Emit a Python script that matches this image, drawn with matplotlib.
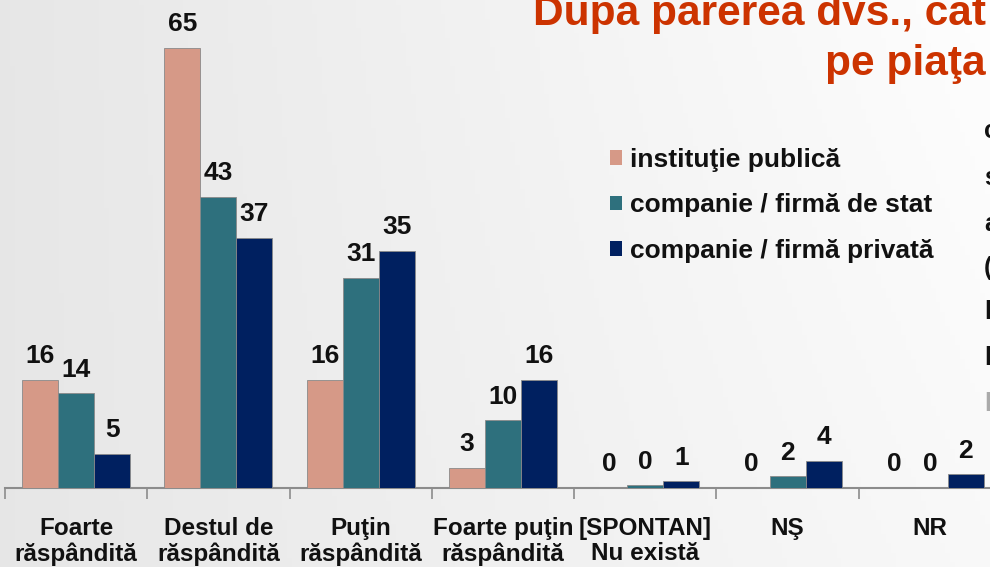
import numpy as np
import matplotlib
matplotlib.use("Agg")
import matplotlib.pyplot as plt
from matplotlib.patches import Patch

categories = ["Foarte\nrăspândită", "Destul de\nrăspândită", "Puţin\nrăspândită",
              "Foarte puţin\nrăspândită", "[SPONTAN]\nNu există", "NŞ", "NR"]
series_names = ["instituţie publică", "companie / firmă de stat", "companie / firmă privată"]
inst_publica = [16, 65, 16, 3, 0, 0, 0]
firma_stat = [14, 43, 31, 10, 0.4, 1.7, 0]
firma_privata = [5, 37, 35, 16, 1, 4, 2]
title_lines = ["După părerea dvs., cât", "pe piaţa"]
side_chars = ["c", "s", "a", "(", "l", "l", "l"]

colors = ["#D69987", "#2E707D", "#002060"]
W, H = 990, 567
plt.rcParams['font.family'] = ['Liberation Sans', 'DejaVu Sans']

fig = plt.figure(figsize=(W / 100, H / 100), dpi=100)

# background gradient
bg = fig.add_axes([0, 0, 1, 1], zorder=-10)
xx, yy = np.meshgrid(np.linspace(0, 1, 200), np.linspace(0, 1, 120))
val = 0.905 + 0.07 * xx + 0.02 * (1 - yy) * xx
bg.imshow(np.dstack([val, val, val]), aspect='auto', extent=[0, 1, 0, 1], origin='upper')
bg.set_axis_off()

def px(x, y):
    return x / W, 1 - y / H

ax = fig.add_axes([5 / W, (H - 488) / H, 996 / W, 440 / H])
ax.set_facecolor('none')
n = len(categories)
x = np.arange(n)
bw = 0.253
series = [inst_publica, firma_stat, firma_privata]
for k, (vals, c) in enumerate(zip(series, colors)):
    bars = ax.bar(x + (k - 1) * bw, vals, width=bw, color=c, edgecolor='#8a8a8a',
                  linewidth=0.6, zorder=3)
    for b, v in zip(bars, vals):
        ax.annotate(f"{round(v):d}", (b.get_x() + b.get_width() / 2, b.get_height()),
                    xytext=(0, 12.0), textcoords='offset points', ha='center',
                    va='baseline', fontsize=19, fontweight='bold', color='#111111')

ax.set_xlim(-0.5, n - 0.5)
ax.set_ylim(0, 65)
for s in ['top', 'right', 'left']:
    ax.spines[s].set_visible(False)
ax.spines['bottom'].set_color('#8c8c8c')
ax.spines['bottom'].set_linewidth(1.5)
ax.set_yticks([])
ax.set_xticks(np.arange(n) - 0.5)
ax.set_xticklabels([])
ax.tick_params(axis='x', length=8, width=1.2, color='#8c8c8c', direction='out')
for i, lab in enumerate(categories):
    ax.text(i, -29 / 440, lab, transform=ax.get_xaxis_transform(), ha='center',
            va='top', fontsize=17.5, fontweight='bold', color='#111111',
            linespacing=1.13)

handles = [Patch(facecolor=c, edgecolor='none') for c in colors]
leg = fig.legend(handles, series_names, loc='upper left',
                 bbox_to_anchor=px(586, 124), frameon=False,
                 prop={'size': 19, 'weight': 'bold'}, handlelength=0.48,
                 handleheight=0.48, handletextpad=0.3, labelspacing=0.82)
for t in leg.get_texts():
    t.set_color('#111111')

fig.text(*px(986, 25), title_lines[0], ha='right', va='baseline', fontsize=30.5,
         fontweight='bold', color='#CC3300')
fig.text(*px(986, 75), title_lines[1], ha='right', va='baseline', fontsize=30.5,
         fontweight='bold', color='#CC3300')

for ch, yc, col in zip(side_chars, [131, 178, 224, 268, 312, 358, 404],
                       ['#111111'] * 6 + ['#aaaaaa']):
    fig.text(*px(984, yc), ch, ha='left', va='center', fontsize=18,
             fontweight='bold', color=col)

fig.savefig("out.png", dpi=100)
